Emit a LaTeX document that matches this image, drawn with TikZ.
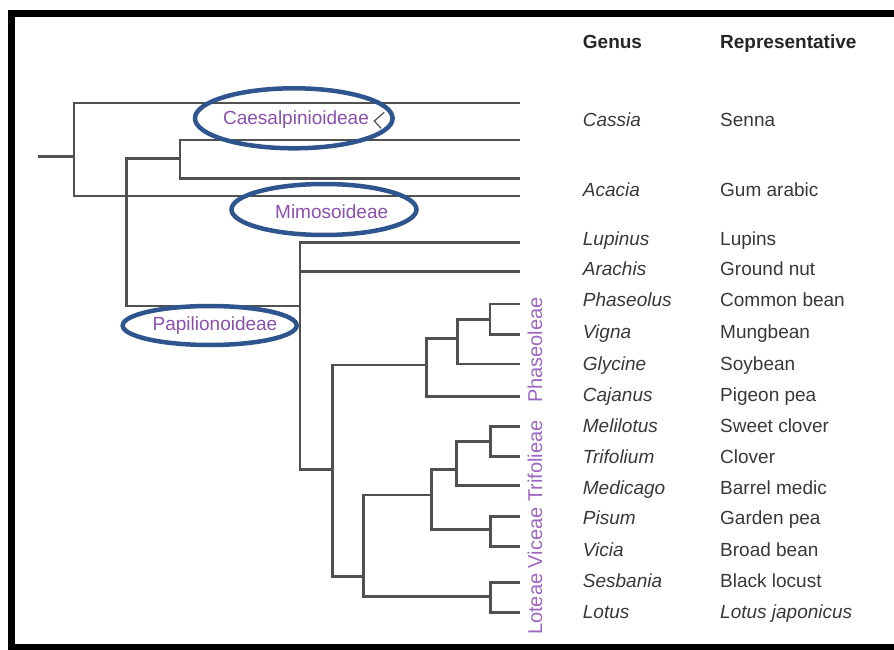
\documentclass[tikz,border=0pt]{standalone}
\usepackage{fontspec}
\setmainfont{Liberation Sans}
\definecolor{treeline}{HTML}{505050}
\definecolor{txt}{HTML}{383838}
\definecolor{cladecol}{HTML}{8A4FAF}
\definecolor{tribecol}{HTML}{9C66C2}
\definecolor{ringcol}{HTML}{2F558E}
\begin{document}
\begin{tikzpicture}[x=1pt,y=-1pt,
  branch/.style={draw=treeline, line width=2.5pt},
  genus/.style={anchor=base west, inner sep=0pt, text=txt, font=\fontsize{19}{22}\selectfont\itshape},
  rep/.style={anchor=base west, inner sep=0pt, text=txt, font=\fontsize{19}{22}\selectfont},
  head/.style={anchor=base west, inner sep=0pt, text=black!85, font=\fontsize{19}{22}\selectfont\bfseries},
  cladelabel/.style={inner sep=0pt, text=cladecol, font=\fontsize{19}{22}\selectfont},
  tribelabel/.style={inner sep=0pt, text=tribecol, font=\fontsize{20}{22}\selectfont, rotate=90},
  ring/.style={draw=ringcol, line width=4.5pt}]
\useasboundingbox (0,0) rectangle (894,650);
\clip (0,0) rectangle (894,650);
% frame
\draw[line width=7pt] (905,13.5) -- (11.5,13.5) -- (11.5,647.5) -- (905,647.5);
% leaf ends
\coordinate (l1) at (520,103);
\coordinate (l2) at (520,140);
\coordinate (l3) at (520,178.3);
\coordinate (l4) at (520,196);
\coordinate (Lupinus) at (520,242.7);
\coordinate (Arachis) at (520,271.7);
\coordinate (Phaseolus) at (520,304);
\coordinate (Vigna) at (520,334.3);
\coordinate (Glycine) at (520,364);
\coordinate (Cajanus) at (520,396.7);
\coordinate (Melilotus) at (520,426.7);
\coordinate (Trifolium) at (520,456.7);
\coordinate (Medicago) at (520,485.7);
\coordinate (Pisum) at (520,516.7);
\coordinate (Vicia) at (520,546.7);
\coordinate (Sesbania) at (520,582.7);
\coordinate (Lotus) at (520,612.7);
% internal nodes
\coordinate (stub) at (38,156.7);
\coordinate (root) at (74,156.7);
\coordinate (n3) at (180,158.7);
\coordinate (n2) at (126.7,232);
\coordinate (P) at (300,306);
\coordinate (D) at (332.3,469.3);
\coordinate (C) at (426.7,365);
\coordinate (B) at (457.7,338.3);
\coordinate (A) at (490,319.3);
\coordinate (E) at (363.3,576.7);
\coordinate (F) at (431.7,495);
\coordinate (G) at (490.7,596.7);
\coordinate (H) at (456.7,469.3);
\coordinate (I) at (490.7,529.3);
\coordinate (J) at (490.7,441.7);
% tree
\draw[branch] (stub) -- (root);
\draw[branch] (l1) -| (root) |- (l4);
\draw[branch] (l2) -| (n3) |- (l3);
\draw[branch] (n3) -| (n2) |- (P);
\draw[branch] (Lupinus) -| (P) |- (D);
\draw[branch] (Arachis) -- (Arachis -| P);
\draw[branch] (C) -| (D) |- (E);
\draw[branch] (B) -| (C) |- (Cajanus);
\draw[branch] (A) -| (B) |- (Glycine);
\draw[branch] (Phaseolus) -| (A) |- (Vigna);
\draw[branch] (F) -| (E) |- (G);
\draw[branch] (H) -| (F) |- (I);
\draw[branch] (J) -| (H) |- (Medicago);
\draw[branch] (Melilotus) -| (J) |- (Trifolium);
\draw[branch] (Pisum) -| (I) |- (Vicia);
\draw[branch] (Sesbania) -| (G) |- (Lotus);
% small mark
\coordinate (m1) at (384.3,112.3);
\coordinate (m2) at (374.3,121);
\coordinate (m3) at (381,128.3);
\draw[treeline, line width=1.2pt] (m1) -- (m2) -- (m3);
% clade labels
\node[cladelabel] (caes) at (296,120) {Caesalpinioideae};
\node[cladelabel] (mimo) at (331.7,211.7) {Mimosoideae};
\node[cladelabel] (papi) at (215,325.7) {Papilionoideae};
\draw[ring] (293.8,118.3) ellipse [x radius=98.8, y radius=30];
\draw[ring] (324,209.5) ellipse [x radius=92.5, y radius=25.5];
\draw[ring] (209.7,325.5) ellipse [x radius=87, y radius=19.5];
% tribe labels
\node[tribelabel] (phas) at (535,350) {Phaseoleae};
\node[tribelabel] (ltv) at (535,527.5) {Loteae Viceae Trifolieae};
% headers
\node[head] (hg) at (582.7,48.5) {Genus};
\node[head] (hr) at (720,48.5) {Representative};
% rows
\foreach \yy/\gg/\rr/\nn in {120/Cassia/Senna/1, 190/Acacia/Gum arabic/2,
  239/Lupinus/Lupins/3, 268.5/Arachis/Ground nut/4, 299.5/Phaseolus/Common bean/5,
  332/Vigna/Mungbean/6, 364/Glycine/Soybean/7, 395/Cajanus/Pigeon pea/8,
  425.5/Melilotus/Sweet clover/9, 456.5/Trifolium/Clover/10, 487.5/Medicago/Barrel medic/11,
  517.5/Pisum/Garden pea/12, 550/Vicia/Broad bean/13, 581/Sesbania/Black locust/14,
  611.5/Lotus/{\itshape Lotus japonicus}/15}{
  \node[genus] (g\nn) at (582.7,\yy+6.8) {\gg};
  \node[rep] (r\nn) at (720,\yy+6.8) {\rr};
}
\end{tikzpicture}
\end{document}
